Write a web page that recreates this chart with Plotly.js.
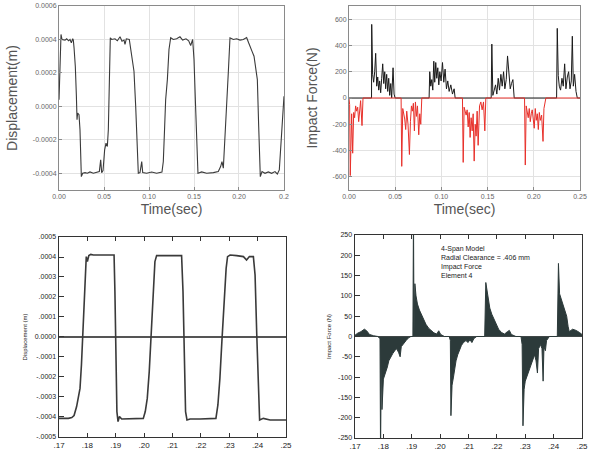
<!DOCTYPE html>
<html>
<head>
<meta charset="utf-8">
<script src="https://cdn.plot.ly/plotly-3.0.1.min.js"></script>
<style>html,body{margin:0;padding:0;background:#fff;}#chart{width:592px;height:455px;}</style>
</head>
<body>
<div id="chart"></div>
<script>
// ---- Top-left: measured displacement ----
const tlTime = [0,0.0011,0.0022,0.0033,0.0067,0.0085,0.0107,0.0122,0.0137,0.0152,0.0159,0.0167,0.0181,0.0193,0.02,0.0207,0.0222,0.0233,0.0241,0.0248,0.0263,0.0289,0.0315,0.0344,0.0381,0.0419,0.0448,0.0463,0.0474,0.0489,0.0507,0.0522,0.0537,0.0548,0.0559,0.057,0.0585,0.0622,0.0648,0.0678,0.07,0.0722,0.0733,0.0748,0.0781,0.0796,0.0819,0.0833,0.0852,0.087,0.0881,0.09,0.0919,0.093,0.0974,0.103,0.1085,0.1144,0.1159,0.1174,0.1185,0.1204,0.1222,0.1241,0.127,0.1307,0.1344,0.1374,0.1411,0.1441,0.1463,0.1485,0.15,0.1515,0.153,0.1544,0.1585,0.1641,0.1715,0.177,0.1796,0.1811,0.1826,0.1844,0.1863,0.1881,0.19,0.1937,0.1974,0.2011,0.2048,0.2085,0.2107,0.213,0.2144,0.2167,0.2189,0.2204,0.2219,0.2237,0.2256,0.2289,0.2326,0.2363,0.24,0.2426,0.2448,0.2463,0.2481,0.25];
const tlDisp = [0.00004,0.00024,0.00043,0.0004,0.000396,0.000404,0.000392,0.0004,0.00038,0.000404,0.000396,0.00035,0.00024,0.00006,-0.00008,-0.00004,-0.00005,-0.00014,-0.00028,-0.00042,-0.0004,-0.000396,-0.0004,-0.000392,-0.0004,-0.000396,-0.00039,-0.00032,-0.000396,-0.000384,-0.00026,-0.00022,-0.00024,-0.00014,0.00014,0.00041,0.0004,0.000404,0.000392,0.000416,0.00039,0.000396,0.00037,0.000404,0.0004,0.00034,0.00026,0.00021,0.0,-0.00026,-0.0004,-0.000396,-0.00033,-0.000396,-0.0004,-0.000392,-0.0004,-0.000392,-0.00033,-0.00012,0.00004,0.00016,0.00034,0.00041,0.0004,0.000404,0.000416,0.000396,0.000404,0.000392,0.000364,0.0004,0.00028,0.00004,-0.00024,-0.0004,-0.000392,-0.0004,-0.000396,-0.00039,-0.00036,-0.00033,-0.00037,-0.0002,0.0,0.0002,0.00041,0.0004,0.000404,0.000396,0.0004,0.000412,0.00038,0.000344,0.00033,0.0003,0.00023,0.00016,-0.00012,-0.00042,-0.00039,-0.0004,-0.000392,-0.0004,-0.00039,-0.000404,-0.00038,-0.00024,-0.00006,0.00006];
const tlXTickVals = [0,0.05,0.10,0.15,0.20,0.25];
const tlXTickText = ["0.00","0.05","0.10","0.15","0.20","0.2"];
const tlYTickVals = [-0.0004,-0.0002,0,0.0002,0.0004,0.0006];
const tlYTickText = ["-0.0004","-0.0002","0.0000","0.0002","0.0004","0.0006"];

// ---- Top-right: measured impact force ----
const trPosTime = [0,0.0244,0.0246,0.0256,0.0267,0.0278,0.0289,0.03,0.0311,0.0322,0.0332,0.0343,0.0354,0.0365,0.0376,0.0387,0.0397,0.0408,0.0419,0.043,0.0441,0.0452,0.0462,0.0477,0.0488,0.0499,
 0.0867,0.0874,0.0885,0.0896,0.0907,0.0918,0.0928,0.0939,0.095,0.0961,0.0972,0.0983,0.0997,0.1012,0.1026,0.104,0.1055,0.1069,0.1084,0.1102,0.112,0.1138,0.1149,
 0.1539,0.1546,0.1557,0.1572,0.1586,0.16,0.1615,0.1629,0.1644,0.1658,0.1673,0.1687,0.1702,0.1716,0.173,0.1745,0.1759,0.1774,0.1788,
 0.2247,0.2254,0.2265,0.2276,0.229,0.2305,0.2319,0.2334,0.2348,0.2363,0.2377,0.2392,0.2406,0.2417,0.2428,0.2442,0.2457,0.2471,0.25];
const trPosForce = [0,0,560,180,120,200,340,90,160,60,130,40,150,260,110,200,70,180,50,150,20,110,0,230,30,0,
 0,200,90,140,60,280,120,270,150,230,100,200,130,270,120,220,70,130,50,100,30,70,0,
 0,410,20,60,100,30,150,60,180,90,200,70,140,320,190,70,110,140,0,
 0,530,170,90,60,150,90,260,70,160,200,70,130,470,90,180,50,0,0];
const trNegTime = [0,0.0007,0.0014,0.0022,0.0029,0.004,0.0051,0.0061,0.0072,0.0083,0.0094,0.0105,0.0116,0.0126,0.0141,0.0152,
 0.0564,0.0571,0.0582,0.0592,0.0603,0.0614,0.0625,0.0639,0.0654,0.0665,0.0676,0.0686,0.0697,0.0708,0.0719,0.073,0.0741,0.0755,0.0766,0.0777,0.0788,
 0.1228,0.1236,0.1246,0.1257,0.1268,0.1279,0.129,0.1301,0.1311,0.1322,0.1333,0.1344,0.1355,0.1366,0.1376,0.1387,0.1398,0.1413,0.1427,0.1441,0.1456,0.147,0.1481,
 0.19,0.1908,0.1918,0.1929,0.194,0.1951,0.1962,0.1973,0.1983,0.1994,0.2005,0.2016,0.2027,0.2038,0.2049,0.206,0.2071,0.2085,0.21,0.211,0.2121,0.2131,0.25];
const trNegForce = [0,-50,-590,-200,-120,-420,-110,-150,-60,-100,-70,-180,-60,-20,-210,0,
 0,-520,-80,-110,-160,-240,-100,-200,-430,-180,-60,-100,-40,-250,-30,-140,-60,-280,-120,-200,0,
 0,-490,-70,-100,-130,-90,-220,-110,-300,-150,-250,-120,-480,-200,-290,-100,-360,-60,-30,-90,-30,-250,0,
 0,-510,-60,-100,-150,-80,-180,-120,-90,-160,-230,-80,-170,-120,-240,-110,-170,-130,-330,-80,-30,0,0];
const trXTickVals = [0,0.05,0.10,0.15,0.20,0.25];
const trXTickText = ["0.00","0.05","0.10","0.15","0.20","0.25"];
const trYTickVals = [-600,-400,-200,0,200,400,600];
const trYTickText = ["-600","-400","-200","0","200","400","600"];

// ---- Bottom-left: simulated displacement ----
const blTime = [0.17,0.1715,0.1733,0.1745,0.1753,0.1762,0.1769,0.1774,0.1779,0.1783,0.1788,0.1793,0.1796,0.18,0.1805,0.1812,0.1821,0.1844,0.1868,0.1894,0.1897,0.1901,0.1904,0.1908,0.1913,0.1921,0.1938,0.1962,0.1997,0.2004,0.2011,0.2018,0.2025,0.2032,0.2038,0.2044,0.2056,0.2079,0.2103,0.2132,0.2137,0.2142,0.2146,0.2151,0.2162,0.2197,0.2232,0.2253,0.226,0.2267,0.2274,0.2281,0.2289,0.2294,0.2303,0.2326,0.235,0.2361,0.2371,0.2385,0.2391,0.2397,0.2402,0.2407,0.242,0.2444,0.2473,0.25];
const blDisp = [-0.000407,-0.000407,-0.000407,-0.000403,-0.000393,-0.000348,-0.000298,-0.000257,-0.00014,0.00001,0.000193,0.00036,0.000402,0.000377,0.000407,0.000413,0.00041,0.00041,0.00041,0.00041,0.000227,-0.000107,-0.000373,-0.000423,-0.000398,-0.00041,-0.00041,-0.00041,-0.000407,-0.000373,-0.000307,-0.000173,0.00001,0.000193,0.000377,0.000407,0.000407,0.000407,0.000407,0.000407,0.000227,-0.000107,-0.000373,-0.000415,-0.00041,-0.00041,-0.00041,-0.000407,-0.00034,-0.000207,-0.000023,0.00016,0.000343,0.000402,0.00041,0.000407,0.000402,0.000385,0.000402,0.000402,0.00031,0.00001,-0.000273,-0.000415,-0.000407,-0.000415,-0.000415,-0.000415];
const blXTickVals = [0.17,0.18,0.19,0.20,0.21,0.22,0.23,0.24,0.25];
const blXTickText = [".17",".18",".19",".20",".21",".22",".23",".24",".25"];
const blYTickVals = [-0.0005,-0.0004,-0.0003,-0.0002,-0.0001,0,0.0001,0.0002,0.0003,0.0004,0.0005];
const blYTickText = ["-.0005","-.0004","-.0003","-.0002","-.0001","0.0000",".0001",".0002",".0003",".0004",".0005"];

// ---- Bottom-right: simulated impact force ----
const brTime = [0.17,0.1709,0.1721,0.1733,0.1741,0.1751,0.1765,0.178,0.1788,0.179,0.1793,0.1795,0.18,0.1805,0.1809,0.1814,0.1819,0.1826,0.1833,0.184,0.1847,0.1854,0.1859,0.1863,0.187,0.188,0.1889,0.1897,0.1904,0.1906,0.1908,0.1911,0.1915,0.192,0.1927,0.1934,0.1941,0.195,0.196,0.1969,0.1978,0.1988,0.1995,0.2002,0.2015,0.2032,0.2036,0.2038,0.2042,0.2047,0.2051,0.2056,0.2062,0.2068,0.2075,0.2082,0.2091,0.2098,0.2105,0.2112,0.2119,0.2129,0.2157,0.2161,0.2165,0.217,0.2175,0.2182,0.2189,0.2197,0.2206,0.2216,0.2227,0.2237,0.2244,0.2251,0.2267,0.2285,0.2289,0.2292,0.2296,0.23,0.2305,0.2312,0.2319,0.2326,0.2333,0.2338,0.2343,0.2347,0.2354,0.2359,0.2363,0.2366,0.2371,0.2375,0.2385,0.2413,0.2417,0.2421,0.2426,0.2432,0.2439,0.2446,0.2451,0.2455,0.2467,0.2479,0.2491,0.25];
const brForce = [3,8,12,18,14,5,2,0,-5,-290,-20,-180,-105,-95,-85,-75,-60,-50,-42,-35,-30,-40,-50,-25,-18,-10,-3,0,0,300,10,130,100,80,65,55,45,30,20,14,9,6,14,5,0,0,-10,-195,-120,-100,-80,-60,-45,-32,-22,-15,-10,-15,-8,-15,-5,0,0,133,115,95,70,55,45,30,18,10,6,12,15,5,0,0,-20,-220,-130,-110,-100,-85,-70,-55,-45,-60,-90,-30,-20,-30,-110,-25,-35,-10,0,0,180,105,95,80,65,50,25,12,18,15,10,5];
const brXTickVals = [0.17,0.18,0.19,0.20,0.21,0.22,0.23,0.24,0.25];
const brXTickText = [".17",".18",".19",".20",".21",".22",".23",".24",".25"];
const brYTickVals = [-250,-200,-150,-100,-50,0,50,100,150,200,250];
const brYTickText = ["-250","-200","-150","-100","-50","0","50","100","150","200","250"];
const brNote = ["4-Span Model","Radial Clearance = .406 mm","Impact Force","Element 4"];

const FONT = "Liberation Sans, Arial, sans-serif";

const traces = [
  {x: tlTime, y: tlDisp, type: 'scatter', mode: 'lines', line: {color: '#3a3a3a', width: 1.1}, xaxis: 'x', yaxis: 'y', hoverinfo: 'skip'},
  {x: trPosTime, y: trPosForce, type: 'scatter', mode: 'lines', line: {color: '#1a1a1a', width: 1}, xaxis: 'x2', yaxis: 'y2', hoverinfo: 'skip'},
  {x: trNegTime, y: trNegForce, type: 'scatter', mode: 'lines', line: {color: '#e8302a', width: 1}, xaxis: 'x2', yaxis: 'y2', hoverinfo: 'skip'},
  {x: blTime, y: blDisp, type: 'scatter', mode: 'lines', line: {color: '#3a3a3a', width: 1.6}, xaxis: 'x3', yaxis: 'y3', hoverinfo: 'skip'},
  {x: brTime, y: brForce, type: 'scatter', mode: 'lines', fill: 'tozeroy', fillcolor: '#2c3a3a', line: {color: '#2c3a3a', width: 1}, xaxis: 'x4', yaxis: 'y4', hoverinfo: 'skip'}
];

function topX(dom, vals, text) {
  return {domain: dom, range: [0, 0.25], tickvals: vals, ticktext: text, showgrid: true, gridcolor: '#e2e2e2', gridwidth: 1,
    zeroline: false, showline: true, linecolor: '#8a8a8a', linewidth: 1, mirror: true, ticks: 'inside', ticklen: 3, tickcolor: '#8a8a8a',
    tickfont: {family: FONT, size: 7, color: '#666'},
    title: {text: 'Time(sec)', font: {family: FONT, size: 14, color: '#555'}, standoff: 4}};
}
function topY(dom, range, vals, text, title, anchor) {
  return {domain: dom, range: range, tickvals: vals, ticktext: text, anchor: anchor, showgrid: true, gridcolor: '#e2e2e2', gridwidth: 1,
    zeroline: false, showline: true, linecolor: '#8a8a8a', linewidth: 1, mirror: true, ticks: 'inside', ticklen: 3, tickcolor: '#8a8a8a',
    tickfont: {family: FONT, size: 7, color: '#666'},
    title: {text: title, font: {family: FONT, size: 14, color: '#555'}, standoff: 11}};
}
function botX(dom, vals, text, anchor) {
  return {domain: dom, range: [0.17, 0.25], tickvals: vals, ticktext: text, anchor: anchor, showgrid: false, zeroline: false,
    showline: true, linecolor: '#333', linewidth: 1.5, mirror: 'ticks', ticks: 'inside', ticklen: 4, tickcolor: '#333',
    tickfont: {family: FONT, size: 8, color: '#222'}};
}
function botY(dom, range, vals, text, title, anchor) {
  return {domain: dom, range: range, tickvals: vals, ticktext: text, anchor: anchor, showgrid: false,
    zeroline: true, zerolinecolor: '#555', zerolinewidth: 1.2,
    showline: true, linecolor: '#333', linewidth: 1.5, mirror: true, ticks: 'inside', ticklen: 5, tickcolor: '#333',
    tickfont: {family: FONT, size: 7, color: '#222'},
    title: {text: title, font: {family: FONT, size: 6, color: '#222'}, standoff: 6}};
}

const layout = {
  width: 592, height: 455, margin: {l: 0, r: 0, t: 0, b: 0}, paper_bgcolor: '#fff', plot_bgcolor: '#fff', showlegend: false,
  xaxis: Object.assign(topX([0.0997, 0.4797], tlXTickVals, tlXTickText), {anchor: 'y'}),
  yaxis: topY([0.5824, 0.9868], [-0.0005, 0.0006], tlYTickVals, tlYTickText, 'Displacement(m)', 'x'),
  xaxis2: Object.assign(topX([0.5895, 0.9797], trXTickVals, trXTickText), {anchor: 'y2'}),
  yaxis2: topY([0.5824, 0.9868], [-700, 700], trYTickVals, trYTickText, 'Impact Force(N)', 'x2'),
  xaxis3: botX([0.0997, 0.4831], blXTickVals, blXTickText, 'y3'),
  yaxis3: botY([0.0396, 0.4791], [-0.0005, 0.0005], blYTickVals, blYTickText, 'Displacement (m)', 'x3'),
  xaxis4: botX([0.5997, 0.9831], brXTickVals, brXTickText, 'y4'),
  yaxis4: botY([0.0374, 0.4835], [-250, 250], brYTickVals, brYTickText, 'Impact Force (N)', 'x4'),
  annotations: [{
    xref: 'paper', yref: 'paper', x: 439/592, y: 1 - 243/455, xanchor: 'left', yanchor: 'top', align: 'left', showarrow: false,
    text: brNote.join('<br>'), font: {family: FONT, size: 7, color: '#222'}
  }]
};

Plotly.newPlot('chart', traces, layout, {staticPlot: true, displayModeBar: false});
</script>
</body>
</html>
